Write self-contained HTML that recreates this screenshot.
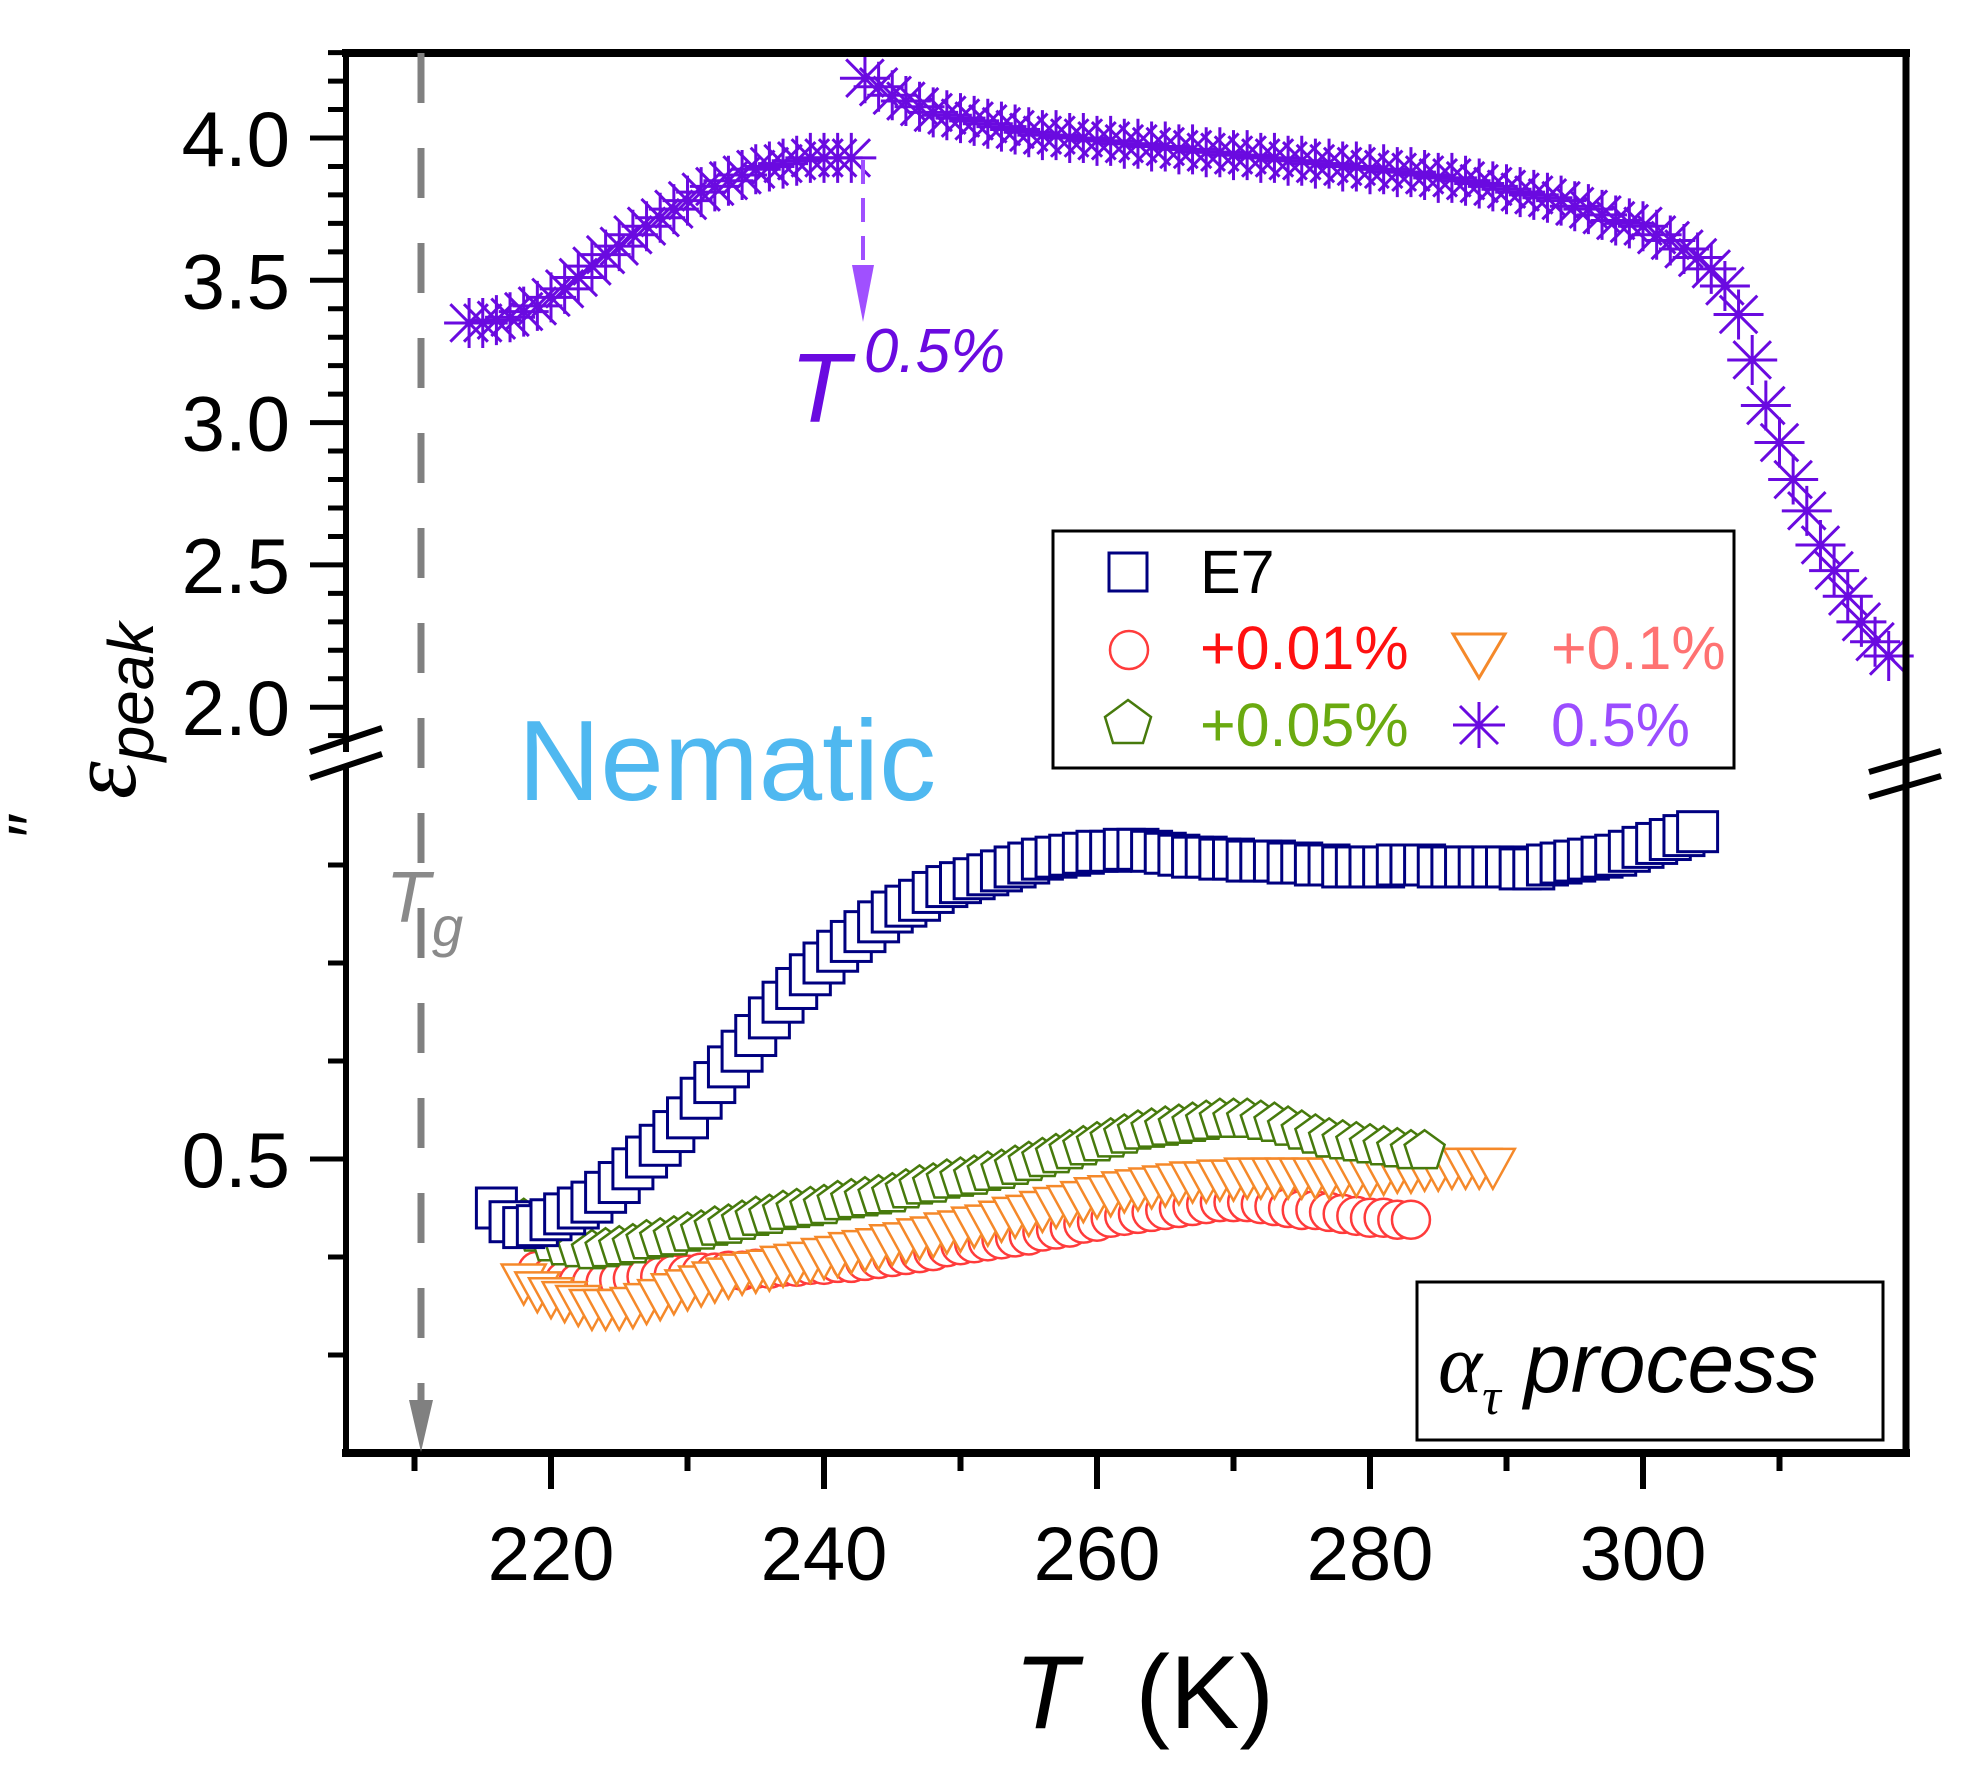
<!DOCTYPE html>
<html><head><meta charset="utf-8"><style>
html,body{margin:0;padding:0;background:#fff;}
svg{display:block;font-family:"Liberation Sans",sans-serif;}
</style></head><body>
<svg id="chart" width="1971" height="1776" viewBox="0 0 1971 1776" xmlns="http://www.w3.org/2000/svg">
<g id="marks"></g>
<g id="axes"></g>
</svg>
<script>
// ---- data ----
const xTickLabels = [220, 240, 260, 280, 300];
const yUpperTickLabels = ["2.0", "2.5", "3.0", "3.5", "4.0"];
const yLowerTickLabels = ["0.5"];

const pTemps = [214,215,216,217,218,219,220,221,222,223,224,225,226,227,228,229,230,231,232,233,234,235,236,237,238,239,240,241,242,243,244,245,246,247,248,249,250,251,252,253,254,255,256,257,258,259,260,261,262,263,264,265,266,267,268,269,270,271,272,273,274,275,276,277,278,279,280,281,282,283,284,285,286,287,288,289,290,291,292,293,294,295,296,297,298,299,300,301,302,303,304,305,306,307,308,309,310,311,312,313,314,315,316,317,318];
const pVals = [3.35,3.35,3.36,3.37,3.39,3.41,3.44,3.47,3.51,3.55,3.59,3.62,3.66,3.69,3.72,3.75,3.78,3.81,3.83,3.85,3.87,3.89,3.90,3.91,3.92,3.93,3.93,3.93,3.93,4.21,4.18,4.15,4.13,4.11,4.09,4.08,4.07,4.06,4.05,4.04,4.03,4.02,4.01,4.01,4.00,4.00,3.99,3.99,3.98,3.98,3.97,3.97,3.96,3.96,3.95,3.95,3.94,3.94,3.93,3.93,3.92,3.92,3.91,3.91,3.90,3.90,3.89,3.89,3.88,3.88,3.87,3.86,3.86,3.85,3.84,3.83,3.82,3.81,3.80,3.79,3.78,3.76,3.75,3.73,3.71,3.70,3.69,3.66,3.64,3.61,3.58,3.54,3.48,3.38,3.22,3.06,2.93,2.80,2.69,2.57,2.48,2.39,2.30,2.23,2.18];

const e7Temps = [216,217,218,219,220,221,222,223,224,225,226,227,228,229,230,231,232,233,234,235,236,237,238,239,240,241,242,243,244,245,246,247,248,249,250,251,252,253,254,255,256,257,258,259,260,261,262,263,264,265,266,267,268,269,270,271,272,273,274,275,276,277,278,279,280,281,282,283,284,285,286,287,288,289,290,291,292,293,294,295,296,297,298,299,300,301,302,303,304];
const e7Vals = [.475,.468,.465,.466,.469,.472,.475,.478,.483,.488,.495,.501,.507,.514,.521,.531,.539,.547,.555,.563,.572,.580,.587,.594,.600,.606,.611,.616,.621,.626,.629,.632,.636,.639,.641,.643,.645,.647,.649,.651,.653,.654,.655,.656,.657,.657,.658,.658,.657,.656,.655,.654,.654,.653,.653,.652,.652,.652,.651,.651,.650,.650,.649,.649,.649,.649,.650,.650,.650,.649,.649,.649,.649,.649,.649,.648,.648,.650,.651,.652,.653,.654,.655,.657,.659,.661,.663,.665,.667];

const gTemps = [218,219,220,221,222,223,224,225,226,227,228,229,230,231,232,233,234,235,236,237,238,239,240,241,242,243,244,245,246,247,248,249,250,251,252,253,254,255,256,257,258,259,260,261,262,263,264,265,266,267,268,269,270,271,272,273,274,275,276,277,278,279,280,281,282,283,284];
const gVals = [.469,.462,.457,.455,.454,.453,.454,.455,.456,.458,.459,.460,.462,.463,.465,.466,.468,.470,.471,.473,.474,.475,.476,.478,.479,.480,.481,.482,.484,.486,.487,.489,.490,.491,.493,.494,.496,.498,.500,.502,.504,.506,.508,.510,.512,.514,.515,.516,.517,.518,.519,.520,.520,.520,.519,.518,.516,.514,.512,.510,.509,.508,.507,.506,.505,.504,.504];

const rTemps = [219,220,221,222,223,224,225,226,227,228,229,230,231,232,233,234,235,236,237,238,239,240,241,242,243,244,245,246,247,248,249,250,251,252,253,254,255,256,257,258,259,260,261,262,263,264,265,266,267,268,269,270,271,272,273,274,275,276,277,278,279,280,281,282,283];
const rVals = [.443,.440,.438,.437,.437,.437,.438,.439,.440,.440,.441,.441,.442,.442,.443,.443,.444,.444,.445,.445,.446,.446,.447,.447,.448,.449,.450,.451,.452,.453,.455,.456,.457,.458,.459,.460,.461,.463,.464,.465,.467,.468,.470,.471,.472,.473,.474,.475,.476,.477,.478,.478,.478,.477,.476,.475,.474,.474,.473,.472,.471,.470,.470,.469,.469];

const oTemps = [218,219,220,221,222,223,224,225,226,227,228,229,230,231,232,233,234,235,236,237,238,239,240,241,242,243,244,245,246,247,248,249,250,251,252,253,254,255,256,257,258,259,260,261,262,263,264,265,266,267,268,269,270,271,272,273,274,275,276,277,278,279,280,281,282,283,284,285,286,287,288,289];
const oVals = [.437,.433,.430,.428,.426,.424,.424,.424,.425,.427,.429,.432,.434,.436,.438,.440,.442,.443,.444,.446,.447,.448,.450,.451,.453,.454,.455,.457,.458,.460,.461,.463,.464,.466,.467,.469,.471,.472,.474,.476,.477,.479,.481,.482,.484,.485,.486,.487,.488,.489,.489,.490,.490,.491,.491,.491,.491,.491,.491,.491,.492,.492,.492,.493,.494,.494,.495,.495,.496,.496,.496,.496];

// ---- scales ----
const X0=346, X1=1906, Y0=53, YB=1453;
function xs(t){ return 551 + (t-220)*13.65; }
function yUp(v){ return 138 + (4.0-v)*284.6; }
function yLo(v){ return 1159 - (v-0.5)/0.05*98; }

const NS="http://www.w3.org/2000/svg";
function mk(tag, attrs, parent){
  const e=document.createElementNS(NS,tag);
  for(const k in attrs) e.setAttribute(k, attrs[k]);
  parent.appendChild(e); return e;
}
const marks=document.getElementById('marks');
const axes=document.getElementById('axes');

function markerShape(kind, cx, cy, color, parent){
  let e;
  const s=20;
  if(kind==='square'){
    e=mk('rect',{x:cx-s,y:cy-s,width:2*s,height:2*s,fill:'#fff',stroke:color,'stroke-width':3},parent);
  } else if(kind==='circle'){
    e=mk('circle',{cx:cx,cy:cy,r:19,fill:'#fff',stroke:color,'stroke-width':2.5},parent);
  } else if(kind==='tri'){
    e=mk('polygon',{points:`${cx-22},${cy-18} ${cx+22},${cy-18} ${cx},${cy+22}`,fill:'#fff',stroke:color,'stroke-width':2.5},parent);
  } else if(kind==='pent'){
    let pts=[];
    for(let i=0;i<5;i++){const a=-Math.PI/2+i*2*Math.PI/5; pts.push((cx+21*Math.cos(a)).toFixed(1)+','+(cy+21*Math.sin(a)).toFixed(1));}
    e=mk('polygon',{points:pts.join(' '),fill:'#fff',stroke:color,'stroke-width':2.5},parent);
  } else {
    const r=25;
    const d=`M${cx-r},${cy}H${cx+r}M${cx},${cy-r}V${cy+r}M${cx-r*0.75},${cy-r*0.75}L${cx+r*0.75},${cy+r*0.75}M${cx-r*0.75},${cy+r*0.75}L${cx+r*0.75},${cy-r*0.75}`;
    e=mk('path',{d:d,fill:'none',stroke:color,'stroke-width':3},parent);
  }
  return e;
}

function drawSeries(name, temps, vals, ysc, kind, color){
  const g=mk('g',{},marks);
  
  
  for(let i=0;i<temps.length;i++){
    const e=markerShape(kind, xs(temps[i]), ysc(vals[i]), color, g);
    
    
  }
}
drawSeries('red-0.01', rTemps, rVals, yLo, 'circle', '#ff3b3b');
drawSeries('orange-0.1', oTemps, oVals, yLo, 'tri', '#f5892a');
drawSeries('green-0.05', gTemps, gVals, yLo, 'pent', '#477a0c');
drawSeries('e7', e7Temps, e7Vals, yLo, 'square', '#000080');
drawSeries('purple-0.5', pTemps, pVals, yUp, 'star', '#6a0ae0');

// ---- axes ----
function line(x1,y1,x2,y2,w,c,name,dash){
  const e=mk('line',{x1:x1,y1:y1,x2:x2,y2:y2,stroke:c||'#000','stroke-width':w},axes);
  if(dash) e.setAttribute('stroke-dasharray',dash);
  
  
  return e;
}
function text(x,y,str,size,opts){
  const e=mk('text',{x:x,y:y,'font-size':size},axes);
  for(const k in (opts||{})) e.setAttribute(k,opts[k]);
  e.textContent=str; return e;
}
line(X0-4,Y0,X1+4,Y0,8,'#000','top-border');
line(X1,Y0,X1,YB,7,'#000','right-border');
line(X0-4,YB,X1+4,YB,8,'#000','x-axis-line');
line(X0,Y0,X0,752,6,'#000','y-axis-upper');
line(X0,768,X0,YB,6,'#000','y-axis-lower');
// x ticks
for(let t=210;t<=310;t+=10){
  const major = xTickLabels.indexOf(t)>=0;
  line(xs(t),YB,xs(t),YB+(major?36:18),6,'#000','x-tick');
}
xTickLabels.forEach(function(t){
  const e=text(xs(t),1580,String(t),76,{'text-anchor':'middle'});
  
  
});
// y upper ticks
for(let k=19;k<=43;k++){
  const v=k/10; const major=(k%5===0);
  line(X0-(major?36:18),yUp(v),X0,yUp(v),5,'#000','y-tick');
}
yUpperTickLabels.forEach(function(s){
  const e=text(290,yUp(parseFloat(s))+28,s,78,{'text-anchor':'end'});
  
  
});
// y lower ticks
for(let k=0;k<=6;k++){
  const v=0.35+k*0.05; if(yLo(v)<770||yLo(v)>1450) continue;
  const major=Math.abs(v-0.5)<1e-6;
  line(X0-(major?36:18),yLo(v),X0,yLo(v),5,'#000','y-tick');
}
yLowerTickLabels.forEach(function(s){
  const e=text(290,yLo(parseFloat(s))+28,s,78,{'text-anchor':'end'});
  
  
});
// break marks
line(310,752,382,728,6,'#000','axis-break-left');
line(310,778,382,754,6,'#000','axis-break-left');
line(1869,772,1941,751,6,'#000','axis-break-right');
line(1869,797,1941,776,6,'#000','axis-break-right');
// Tg dashed line
line(421,53,421,1405,7,'#808080','tg-line','50 45');
mk('polygon',{points:'409,1400 433,1400 421,1452',fill:'#808080',},axes);
// T0.5% dashed arrow
line(863,160,863,270,4,'#a050ff','t05-line','24 14');
mk('polygon',{points:'852,265 874,265 863,322',fill:'#a050ff',},axes);
</script>
<svg style="position:absolute;left:0;top:0" width="1971" height="1776" font-family="Liberation Sans, sans-serif">
  <text x="386" y="922" font-size="72" font-style="italic" fill="#8a8a8a">T<tspan font-size="56" dy="24" dx="2">g</tspan></text>
  <text x="518" y="800" font-size="114" fill="#4fb8f0">Nematic</text>
  <text x="790" y="422" font-size="98" font-style="italic" fill="#6a0ae0">T<tspan font-size="62" dy="-50" dx="14">0.5%</tspan></text>
  <g>
    <rect x="1053" y="531" width="681" height="237" fill="#fff" stroke="#000" stroke-width="3"/>
    <rect x="1109" y="553" width="38" height="38" fill="#fff" stroke="#000080" stroke-width="3"/>
    <text x="1200" y="593" font-size="61">E7</text>
    <circle cx="1129" cy="650" r="19" fill="#fff" stroke="#ff3b3b" stroke-width="2.5"/>
    <text x="1200" y="669" font-size="61" fill="#ff1010">+0.01%</text>
    <polygon points="1453,634 1505,634 1479,678" fill="#fff" stroke="#f5892a" stroke-width="3"/>
    <text x="1551" y="669" font-size="61" fill="#ff7272">+0.1%</text>
    <polygon points="1128,700 1151,717 1143,743 1113,743 1105,717" fill="#fff" stroke="#477a0c" stroke-width="2.5"/>
    <text x="1200" y="746" font-size="61" fill="#6aaa10">+0.05%</text>
    <path d="M1453,725H1505M1479,702V748M1460,706L1498,744M1460,744L1498,706" stroke="#6a0ae0" stroke-width="3" fill="none"/>
    <text x="1551" y="746" font-size="61" fill="#9b4dff">0.5%</text>
  </g>
  <g>
    <rect x="1417" y="1282" width="466" height="158" fill="#fff" stroke="#000" stroke-width="3"/>
    <text x="1438" y="1392" font-size="84" font-style="italic" font-family="Liberation Serif, serif">α<tspan font-size="52" dy="22">τ</tspan><tspan dy="-22" font-family="Liberation Sans, sans-serif"> process</tspan></text>
  </g>
  <text x="1014" y="1728" font-size="104" xml:space="preserve"><tspan font-style="italic">T</tspan>  (K)</text>
  <text transform="translate(135,730) rotate(-90)" font-size="96" text-anchor="middle"><tspan font-style="italic" font-family="Liberation Serif, serif">ε</tspan><tspan font-size="64" dy="18" font-style="italic">peak</tspan><tspan dx="-215" dy="-96" font-size="70">″</tspan></text>
</svg>
</body></html>
